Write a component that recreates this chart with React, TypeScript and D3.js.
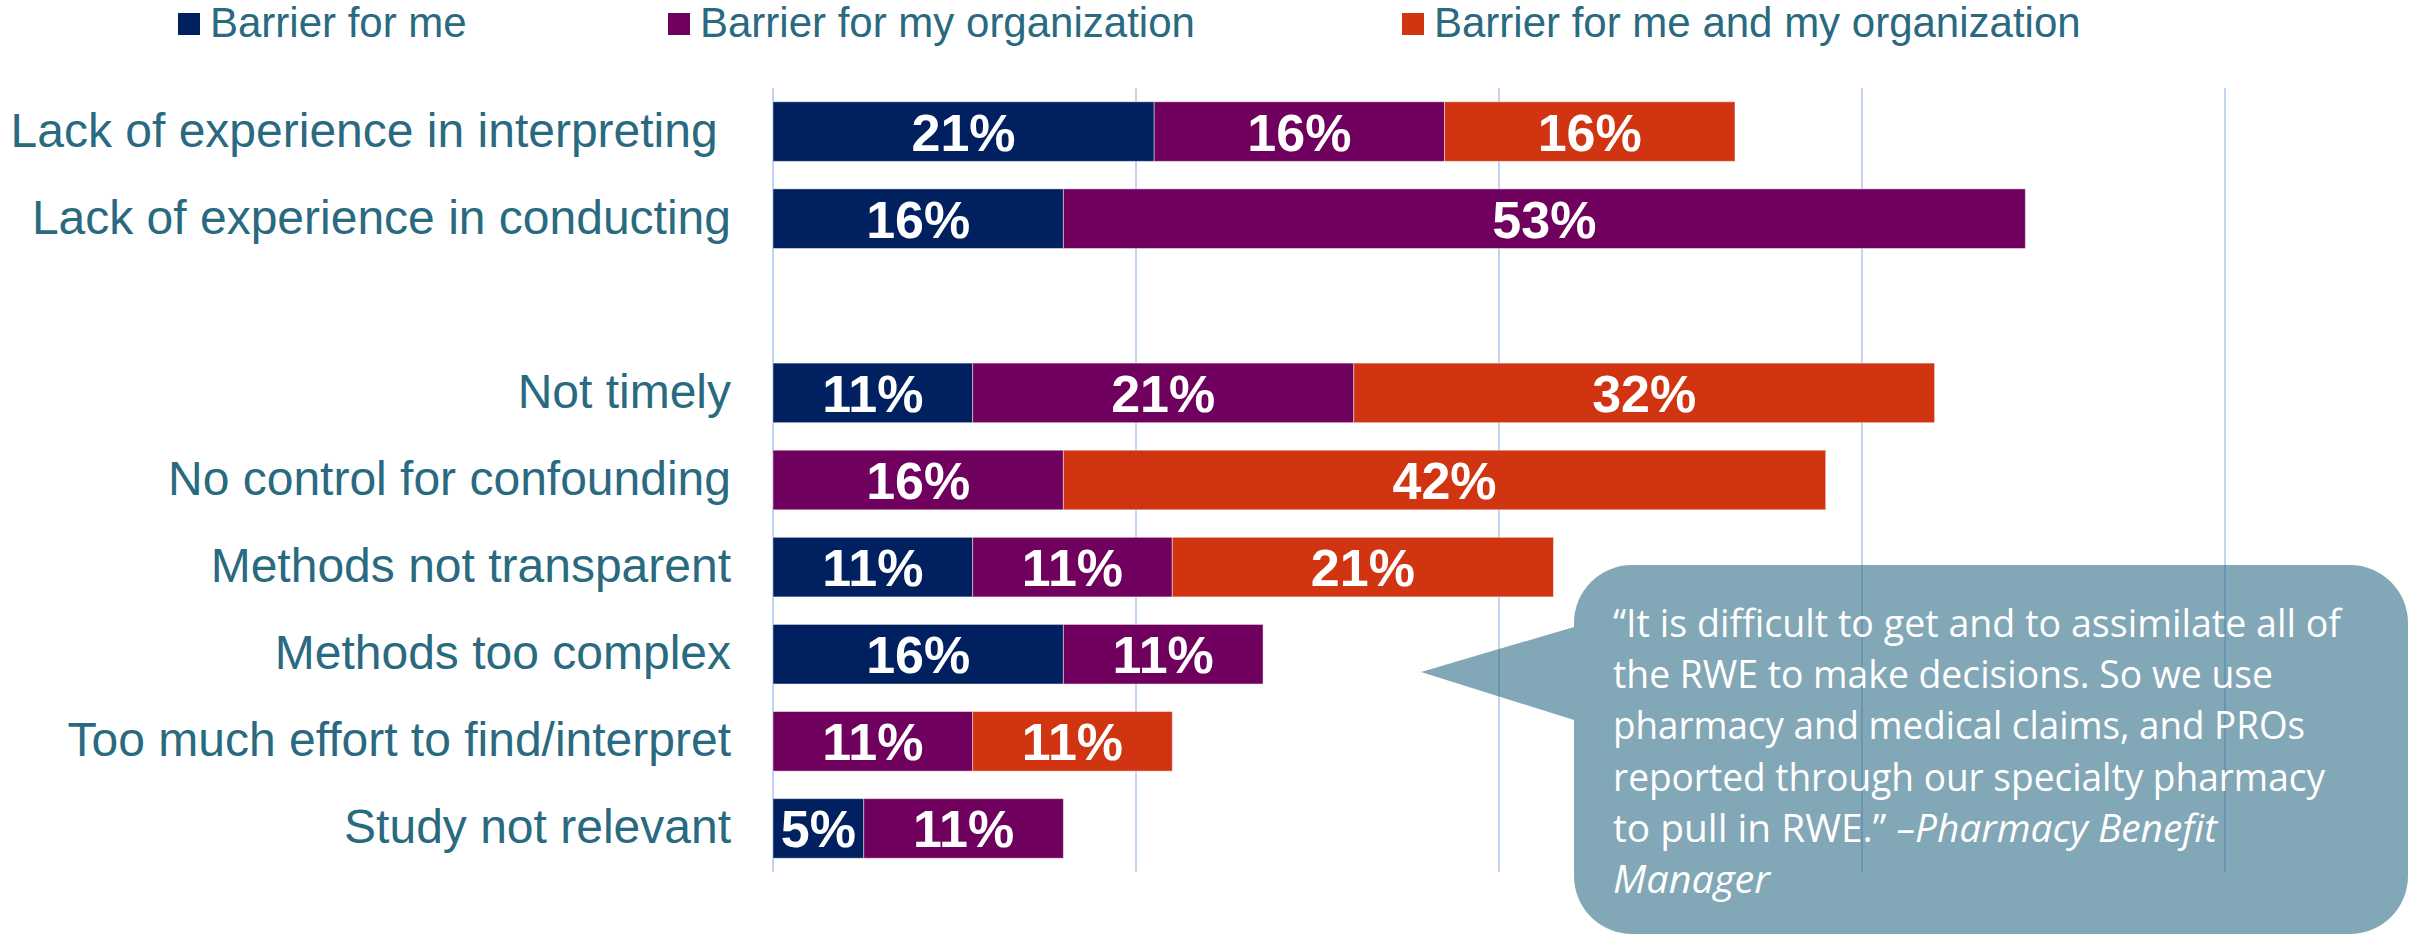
import React from "react";
import * as d3 from "d3";

// categories top to bottom ("" is the empty gap row)
const categories = [
  "Lack of experience in interpreting ",
  "Lack of experience in conducting",
  "",
  "Not timely",
  "No control for confounding",
  "Methods not transparent",
  "Methods too complex",
  "Too much effort to find/interpret",
  "Study not relevant",
];

const seriesNames = [
  "Barrier for me",
  "Barrier for my organization",
  "Barrier for me and my organization",
];

const forMe = [21, 16, 0, 11, 0, 11, 16, 0, 5];
const forOrg = [16, 53, 0, 21, 16, 11, 11, 11, 11];
const forBoth = [16, 0, 0, 32, 42, 21, 0, 11, 0];

const xTicks = [0, 20, 40, 60, 80];

const quoteLines = [
  [{ t: "\u201cIt is difficult to get and to assimilate all of", i: false }],
  [{ t: "the RWE to make decisions. So we use", i: false }],
  [{ t: "pharmacy and medical claims, and PROs", i: false }],
  [{ t: "reported through our specialty pharmacy", i: false }],
  [
    { t: "to pull in RWE.\u201d ", i: false },
    { t: "\u2013Pharmacy Benefit", i: true },
  ],
  [{ t: "Manager", i: true }],
];
const quoteWidths = [728, 660, 692, 712, 604, 157];

const W = 2410;
const H = 935;
const colors = ["#00205f", "#70005e", "#d13410"];
const labelColor = "#2a6a80";
const arial = "'Liberation Sans', Arial, sans-serif";

export default function App() {
  const x = d3.scaleLinear().domain([0, 80]).range([773, 2225]);
  const y = d3
    .scaleBand<string>()
    .domain(categories.map((c, i) => String(i)))
    .range([88, 872])
    .paddingInner(0.316)
    .paddingOuter(0.158);

  const rows = categories.map((name, i) => ({
    name,
    key: String(i),
    vals: [forMe[i], forOrg[i], forBoth[i]],
  }));
  const stack = d3
    .stack<any>()
    .keys(["0", "1", "2"])
    .value((d, k) => d.vals[+k]);
  const layers = stack(rows);

  const color = d3.scaleOrdinal<string, string>().domain(seriesNames).range(colors);
  const legendX = [178, 668, 1402];

  // callout shape
  const bx0 = 1574, by0 = 565, bx1 = 2408, by1 = 934, r = 58;
  const tipX = 1421, tipY = 672;
  const callout = `M${bx0 + r},${by0} H${bx1 - r} A${r},${r} 0 0 1 ${bx1},${by0 + r} V${by1 - r} A${r},${r} 0 0 1 ${bx1 - r},${by1} H${bx0 + r} A${r},${r} 0 0 1 ${bx0},${by1 - r} V720 L${tipX},${tipY} L${bx0},627 V${by0 + r} A${r},${r} 0 0 1 ${bx0 + r},${by0} Z`;

  return (
    <svg
      width={W}
      height={H}
      style={{ position: "absolute", left: 0, top: 0, background: "#fff" }}
    >
      {/* gridlines */}
      <g>
        {xTicks.map((t) => (
          <line
            key={t}
            x1={x(t)}
            x2={x(t)}
            y1={88}
            y2={872}
            stroke="#bfd5f3"
            strokeWidth={2}
          />
        ))}
      </g>

      {/* bars */}
      {layers.map((layer, si) => (
        <g key={si} fill={colors[si]}>
          {layer.map((d, i) => {
            const v = d[1] - d[0];
            if (!v) return null;
            const yy = y(String(i))!;
            return (
              <g key={i}>
                <rect
                  x={x(d[0])}
                  y={yy}
                  width={x(d[1]) - x(d[0])}
                  height={y.bandwidth()}
                  stroke="#ffffff"
                  strokeOpacity={0.45}
                  strokeWidth={1}
                />
                <text
                  x={(x(d[0]) + x(d[1])) / 2}
                  y={yy + y.bandwidth() / 2 + 19}
                  textAnchor="middle"
                  fill="#fff"
                  fontFamily={arial}
                  fontWeight="bold"
                  fontSize={52}
                >
                  {v}%
                </text>
              </g>
            );
          })}
        </g>
      ))}

      {/* category labels */}
      <g>
        {rows.map((row) => (
          <text
            key={row.key}
            x={731}
            y={y(row.key)! + y.bandwidth() / 2 + 15}
            textAnchor="end"
            fill={labelColor}
            fontFamily={arial}
            fontSize={48}
            style={{ whiteSpace: "pre" }}
          >
            {row.name}
          </text>
        ))}
      </g>

      {/* legend */}
      <g>
        {seriesNames.map((s, i) => (
          <g key={s}>
            <rect x={legendX[i]} y={13} width={22} height={22} fill={color(s)} />
            <text
              x={legendX[i] + 32}
              y={37}
              fill={labelColor}
              fontFamily={arial}
              fontSize={42}
            >
              {s}
            </text>
          </g>
        ))}
      </g>

      {/* quote callout */}
      <path d={callout} fill="rgb(47,108,133)" fillOpacity={0.6} />
      <g fill="#ffffff" fontFamily="'Open Sans', sans-serif" fontSize={38}>
        {quoteLines.map((line, li) => (
          <text
            key={li}
            x={1613}
            y={637 + li * 51.2}
            textLength={quoteWidths[li]}
            lengthAdjust="spacingAndGlyphs"
            style={{ whiteSpace: "pre" }}
          >
            {line.map((seg, si) => (
              <tspan key={si} fontStyle={seg.i ? "italic" : "normal"}>
                {seg.t}
              </tspan>
            ))}
          </text>
        ))}
      </g>
    </svg>
  );
}
